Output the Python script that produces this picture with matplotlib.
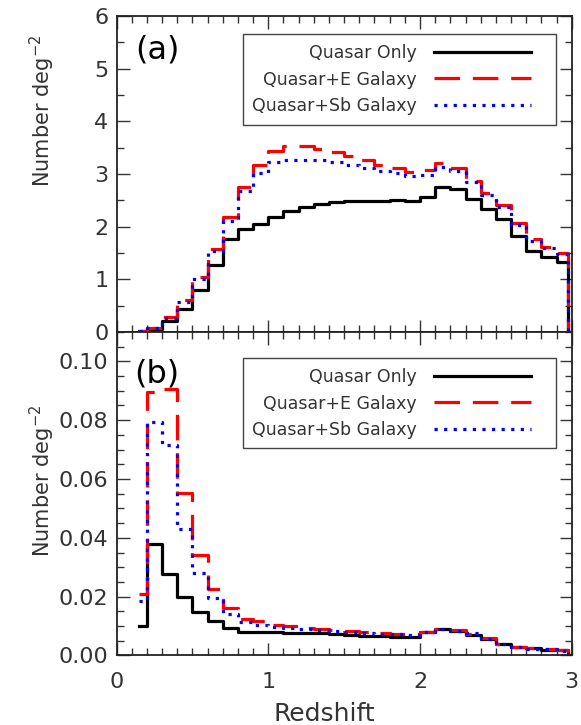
import numpy as np
import matplotlib
matplotlib.use("Agg")
import matplotlib.pyplot as plt
from matplotlib.ticker import MultipleLocator, FormatStrFormatter
from matplotlib.patches import Rectangle

# redshift points (IDL psym=10 style, steps at mid points)
z = [0.15, 0.25, 0.35, 0.45, 0.55, 0.65, 0.75, 0.85, 0.95, 1.05,
     1.15, 1.25, 1.35, 1.45, 1.55, 1.65, 1.75, 1.85, 1.95, 2.05,
     2.15, 2.25, 2.35, 2.45, 2.55, 2.65, 2.75, 2.85, 2.95, 3.00]

# panel (a)
qso_a = [0.01, 0.05, 0.20, 0.44, 0.80, 1.27, 1.77, 1.95, 2.05, 2.18,
         2.30, 2.37, 2.43, 2.47, 2.49, 2.49, 2.49, 2.50, 2.48, 2.57,
         2.76, 2.72, 2.52, 2.34, 2.14, 1.82, 1.54, 1.43, 1.32, 0.0]
qso_e_a = [0.02, 0.08, 0.28, 0.60, 1.04, 1.58, 2.18, 2.75, 3.18, 3.44,
           3.53, 3.53, 3.48, 3.41, 3.35, 3.26, 3.18, 3.11, 3.03, 3.07,
           3.20, 3.11, 2.87, 2.64, 2.42, 2.07, 1.76, 1.62, 1.50, 0.0]
qso_sb_a = [0.01, 0.07, 0.26, 0.57, 1.00, 1.53, 2.11, 2.67, 3.02, 3.22,
            3.27, 3.27, 3.26, 3.23, 3.18, 3.12, 3.06, 3.01, 2.96, 2.99,
            3.14, 3.05, 2.84, 2.60, 2.38, 2.03, 1.73, 1.60, 1.48, 0.0]

# panel (b)
qso_b = [0.0101, 0.0378, 0.0276, 0.0200, 0.0147, 0.0117, 0.0095, 0.0081, 0.0079, 0.0079,
         0.0078, 0.0076, 0.0075, 0.0072, 0.0070, 0.0067, 0.0065, 0.0064, 0.0063, 0.0079,
         0.0089, 0.0082, 0.0071, 0.0057, 0.0038, 0.0028, 0.0024, 0.0020, 0.0017, 0.0]
qso_e_b = [0.0208, 0.0895, 0.0907, 0.0552, 0.0342, 0.0225, 0.0161, 0.0125, 0.0118, 0.0104,
           0.0100, 0.0093, 0.0089, 0.0087, 0.0083, 0.0079, 0.0076, 0.0073, 0.0072, 0.0080,
           0.0091, 0.0086, 0.0073, 0.0058, 0.0038, 0.0028, 0.0024, 0.0021, 0.0018, 0.0]
qso_sb_b = [0.0186, 0.0794, 0.0716, 0.0429, 0.0280, 0.0195, 0.0141, 0.0113, 0.0104, 0.0098,
            0.0095, 0.0090, 0.0087, 0.0083, 0.0079, 0.0077, 0.0074, 0.0072, 0.0070, 0.0079,
            0.0091, 0.0084, 0.0078, 0.0057, 0.0039, 0.0028, 0.0023, 0.0021, 0.0016, 0.0]

labels = ["Quasar Only", "Quasar+E Galaxy", "Quasar+Sb Galaxy"]

plt.rcParams['font.family'] = ['DejaVu Sans']
txtcol = "#333333"

fig = plt.figure(figsize=(5.81, 7.25), dpi=100)
ax1 = fig.add_axes([0.2007, 0.5421, 0.7833, 0.4358])
ax2 = fig.add_axes([0.2007, 0.0959, 0.7833, 0.4462])


def draw_panel(ax, y0, y1, y2, ymax, major, minor, tag, box, ylab_y):
    ax.step(z, y0, where='mid', color='black', lw=2.3, label=labels[0])
    ax.step(z, y1, where='mid', color='red', lw=2.3, dashes=(8, 4), label=labels[1])
    ax.step(z, y2, where='mid', color='blue', lw=2.3, dashes=(1, 2), label=labels[2])
    ax.set_xlim(0, 3)
    ax.set_ylim(0, ymax)
    ax.xaxis.set_major_locator(MultipleLocator(1))
    ax.xaxis.set_minor_locator(MultipleLocator(0.1))
    ax.yaxis.set_major_locator(MultipleLocator(major))
    ax.yaxis.set_minor_locator(MultipleLocator(minor))
    ax.tick_params(which='both', direction='in', top=True, right=True,
                   labelsize=16, colors=txtcol, width=1.0)
    ax.tick_params(axis='y', pad=6)
    ax.tick_params(axis='x', pad=12)
    ax.tick_params(which='major', length=9)
    ax.tick_params(which='minor', length=5)
    for s in ax.spines.values():
        s.set_linewidth(1.3)
        s.set_color('#222222')
    ax.set_ylabel("Number deg$^{-2}$", fontsize=15, color=txtcol)
    ax.yaxis.set_label_coords(-0.132, ylab_y)
    x0, y0b, x1, y1b = box
    ax.text(0.089, y1b - 0.05, tag, transform=ax.transAxes, fontsize=23,
            ha='center', va='center', color='black')
    # legend frame drawn separately (IDL style uneven padding)
    ax.add_patch(Rectangle((x0, y0b), x1 - x0, y1b - y0b, transform=ax.transAxes,
                           fill=True, facecolor='white', edgecolor='#444444',
                           lw=1.0, zorder=4))
    leg = ax.legend(loc='upper right', bbox_to_anchor=(0.9108, y1b - 0.031),
                    borderaxespad=0, borderpad=0, markerfirst=False, fontsize=12.5,
                    handlelength=5.6, handletextpad=1.0, labelspacing=0.5,
                    frameon=False)
    leg.set_zorder(5)
    for t in leg.get_texts():
        t.set_color(txtcol)


draw_panel(ax1, qso_a, qso_e_a, qso_sb_a, 6, 1, 0.5, "(a)",
           (0.2778, 0.655, 0.9657, 0.943), 0.70)
draw_panel(ax2, qso_b, qso_e_b, qso_sb_b, 0.11, 0.02, 0.005, "(b)",
           (0.2778, 0.6414, 0.9657, 0.920), 0.54)

ax1.tick_params(labelbottom=False)
ax2.yaxis.set_major_formatter(FormatStrFormatter('%.2f'))
ax2.set_xticks([0, 1, 2, 3])
ax2.set_xlabel("Redshift", fontsize=18, color=txtcol)
ax2.xaxis.set_label_coords(0.456, -0.145)

fig.savefig("out.png", dpi=100)
